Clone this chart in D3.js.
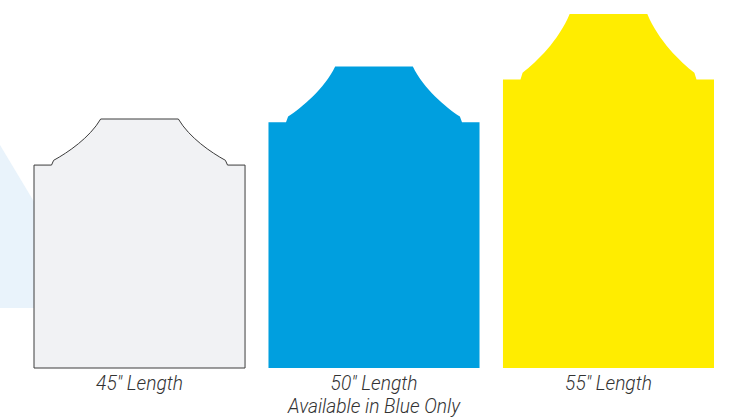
<!DOCTYPE html>
<html>
<head>
<meta charset="utf-8">
<script src="https://cdn.jsdelivr.net/npm/d3@7"></script>
<style>
  body { margin: 0; background: #fff; }
  svg { display: block; }
  .label { font-family: Roboto, "Liberation Sans", sans-serif; font-style: italic; font-weight: 300; font-size: 20px; fill: #333; }
</style>
</head>
<body>
<script>
// board lengths (inches)
var lengths = [45, 50, 55];
var labels = ["45\u2033 Length", "50\u2033 Length", "55\u2033 Length"];
var subLabels = ["", "Available in Blue Only", ""];

var width = 730;
var height = 419;
var baseY = 368; // bottom of all boards

var svg = d3.select("body")
    .append("svg")
    .attr("width", width)
    .attr("height", height);

// light blue wedge behind the first board
svg.append("path")
    .attr("d", "M0,145 L60,245 L60,308 L0,308 Z")
    .attr("fill", "#e9f3fb");

var xScale = d3.scaleBand()
    .domain(lengths)
    .range([34, 714])
    .paddingInner(0.1)
    .paddingOuter(0);

// length -> top of board
var yScale = d3.scaleLinear()
    .domain([45, 55])
    .range([119, 14]);

var color = d3.scaleOrdinal()
    .domain(lengths)
    .range(["#f1f2f4", "#009fdf", "#ffed00"]);

// board outline, in unit coords (u across, v down), scaled to box
function boardPath(x0, w, top, bottom) {
    var h = bottom - top;
    var s = 0.185, n = 0.019, a = 0.083, b = 0.093, c = 0.316;
    var X = function(u) { return x0 + u * w; };
    var Y = function(v) { return top + v * h; };
    var p = d3.path();
    p.moveTo(X(0), Y(1));
    p.lineTo(X(0), Y(s));
    p.lineTo(X(a), Y(s));
    p.lineTo(X(b), Y(s - n));
    p.bezierCurveTo(X(0.160), Y(0.135), X(0.264), Y(0.075), X(c), Y(0));
    p.lineTo(X(1 - c), Y(0));
    p.bezierCurveTo(X(1 - 0.264), Y(0.075), X(1 - 0.160), Y(0.135), X(1 - b), Y(s - n));
    p.lineTo(X(1 - a), Y(s));
    p.lineTo(X(1), Y(s));
    p.lineTo(X(1), Y(1));
    p.closePath();
    return p.toString();
}

svg.selectAll("path.board")
    .data(lengths)
    .enter()
    .append("path")
    .attr("class", "board")
    .attr("d", function(d) {
        return boardPath(xScale(d), xScale.bandwidth(), yScale(d), baseY);
    })
    .attr("fill", function(d) { return color(d); })
    .attr("stroke", function(d, i) { return i === 0 ? "#3c3c3c" : "none"; })
    .attr("stroke-width", 1);

// labels, squeezed a touch to look like a condensed face
var squeeze = 0.96;
var g = svg.selectAll("g.label")
    .data(lengths)
    .enter()
    .append("g")
    .attr("transform", function(d) {
        return "translate(" + (xScale(d) + xScale.bandwidth() / 2) + ",0) scale(" + squeeze + ",1)";
    })
    .append("text")
    .attr("class", "label")
    .attr("text-anchor", "middle")
    .attr("x", 0)
    .attr("y", 390.5);

g.append("tspan")
    .text(function(d, i) { return labels[i]; });

g.append("tspan")
    .attr("x", 0)
    .attr("dy", 22.7)
    .text(function(d, i) { return subLabels[i]; });
</script>
</body>
</html>
